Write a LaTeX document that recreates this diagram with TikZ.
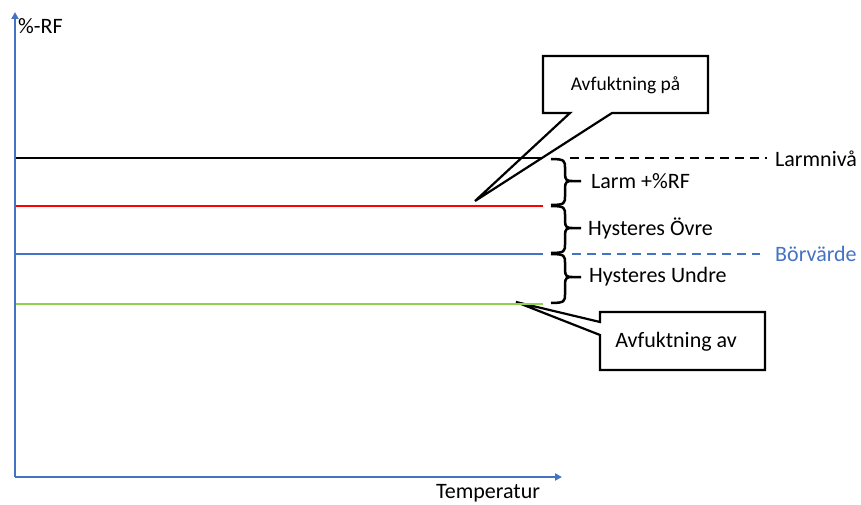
\documentclass[tikz,border=0pt]{standalone}
\usepackage{fontspec}
\setmainfont{Carlito}
\usetikzlibrary{arrows.meta}
\definecolor{axisblue}{RGB}{68,114,196}
\definecolor{lgreen}{RGB}{146,208,80}
\begin{document}
\begin{tikzpicture}[x=1pt,y=-1pt,
  axis/.style={draw=axisblue,line width=2.8pt,-{Triangle[length=7pt,width=7pt]}},
  level/.style={line width=2.2pt},
  dashlevel/.style={line width=2.2pt,dash pattern=on 9pt off 6pt},
  curly/.style={draw=black,line width=2.5pt,line join=round},
  callout/.style={draw=black,line width=2.2pt,fill=white,line join=miter},
  lbl/.style={font=\fontsize{22}{26}\selectfont,inner sep=0pt,anchor=west},
  clbl/.style={font=\fontsize{19.5}{22}\selectfont,inner sep=0pt}]
\useasboundingbox (0,0) rectangle (861,505);
\clip (0,0) rectangle (861,505);
% coordinates
\coordinate (O) at (15,477);
\coordinate (Ytop) at (15,12);
\coordinate (Xend) at (562,477);
% callout 1
\draw[callout] (543,56) -- (708,56) -- (708,113) -- (612,113) -- (475,201) -- (570,113) -- (543,113) -- cycle;
\node[clbl] (cp) at (625.5,85) {Avfuktning på};
% callout 2
\draw[callout] (600,312) -- (765,312) -- (765,370) -- (600,370) -- (600,335) -- (516,302) -- (600,322) -- cycle;
\node[clbl,font=\fontsize{22}{26}\selectfont] (ca) at (676,342) {Avfuktning av};
% levels
\coordinate (k0) at (15,158); \coordinate (k1) at (543,158);
\coordinate (r0) at (15,206); \coordinate (r1) at (543,206);
\coordinate (b0) at (15,254); \coordinate (b1) at (543,254);
\coordinate (g0) at (15,304); \coordinate (g1) at (543,304);
\draw[level,black] (k0) -- (k1);
\draw[level,red] (r0) -- (r1);
\draw[level,axisblue] (b0) -- (b1);
\draw[level,lgreen] (g0) -- (g1);
\coordinate (kd0) at (570,158); \coordinate (kd1) at (767,158);
\coordinate (bd0) at (572,254); \coordinate (bd1) at (760,254);
\draw[dashlevel,black] (kd0) -- (kd1);
\draw[dashlevel,axisblue] (bd0) -- (bd1);
% braces
\foreach \ya/\ym/\yb in {159/181/205, 206/228/253, 254/277/303}{
  \draw[curly] (551,\ya) .. controls (565,\ya) and (565,\ya+2) .. (565,\ya+9)
    -- (565,\ym-7) .. controls (565,\ym-1) and (567,\ym) .. (572,\ym) -- (581,\ym)
    (572,\ym) .. controls (567,\ym) and (565,\ym+1) .. (565,\ym+7)
    -- (565,\yb-9) .. controls (565,\yb-2) and (565,\yb) .. (551,\yb);
}
% axes
\draw[axis] (O) -- (Ytop);
\draw[axis] (O) -- (Xend);
% labels
\node[lbl] (rf) at (18,26) {\%-RF};
\node[lbl,anchor=center] (temp) at (488,493) {Temperatur};
\node[lbl] (larmniva) at (775,159) {Larmnivå};
\node[lbl,text=axisblue] (borv) at (775,254) {Börvärde};
\node[lbl] (larm) at (591,181) {Larm +\%RF};
\node[lbl] (hovre) at (588,228) {Hysteres Övre};
\node[lbl] (hundre) at (589,277) {Hysteres Undre};
\end{tikzpicture}
\end{document}
